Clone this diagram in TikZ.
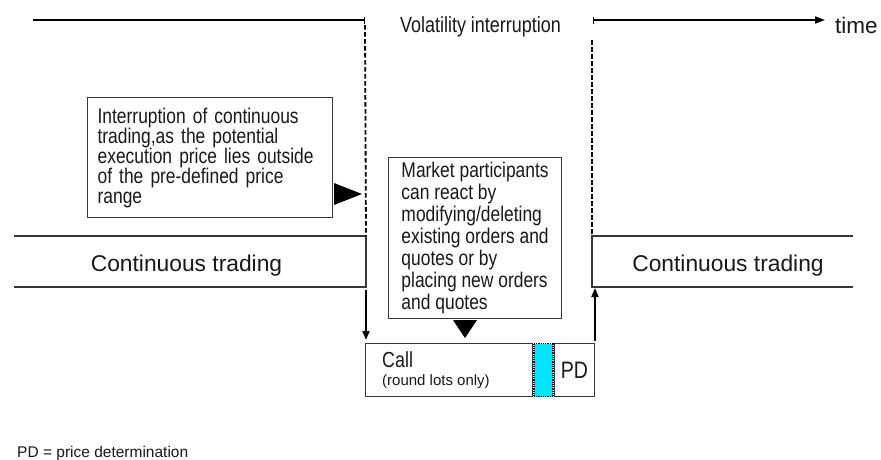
\documentclass[tikz,border=0pt]{standalone}
\usepackage{fontspec}
\setmainfont{Liberation Sans}
\newfontfamily\narrowsf{Liberation Sans}[FakeStretch=0.82]
\usetikzlibrary{arrows.meta,positioning,calc}
\definecolor{callcyan}{RGB}{0,229,255}
\definecolor{boxgray}{RGB}{55,55,55}
\definecolor{inkgray}{RGB}{25,25,25}

\begin{document}
\begin{tikzpicture}[x=1pt,y=-1pt,
	lane/.style={rectangle,draw=none,inner sep=0pt,outer sep=0pt,anchor=north west,minimum height=51pt},
	laneline/.style={draw=boxgray,line width=1.4pt},
	lanetext/.style={inner sep=0pt,anchor=base,text=inkgray,font=\fontsize{22.8}{24}\selectfont},
	vline/.style={line width=1.8pt,dash pattern=on 4.5pt off 2.5pt},
	flow/.style={line width=1.9pt,-{Triangle[length=9pt,width=7pt]}}]
	\useasboundingbox (0,0) rectangle (881,459);

	\begin{scope}[every node/.style={rectangle,draw=boxgray,line width=1.2pt,inner sep=0pt,anchor=north west,text=inkgray}]
		\node[text width=228pt,inner xsep=8.5pt,minimum height=120pt,align=left,font=\narrowsf\fontsize{21.25}{20}\selectfont] (interrupt) at (87,97) {\hspace*{1.5pt}Interruption of continuous\\\hspace*{1.5pt}trading,as the potential\\\hspace*{1.5pt}execution price lies outside\\\hspace*{1.5pt}of the pre-defined price\\\hspace*{1.5pt}range};
		\node[inner xsep=12pt,minimum width=173pt,minimum height=161pt,align=left,font=\narrowsf\fontsize{21.25}{22}\selectfont] (react) at (388,157) {Market participants\\can react by\\modifying/deleting\\existing orders and\\quotes or by\\placing new orders\\and quotes};

		\node[minimum width=167pt,minimum height=53pt] (call) at (365,343) {};
		\node[right =0pt of call,fill=callcyan,draw=black,line width=1.6pt,dash pattern=on 1pt off 0.8pt,minimum width=19pt,minimum height=53pt] (gap) {};
		\node[right =0pt of gap,minimum width=40pt,minimum height=53pt,font=\narrowsf\fontsize{23.8}{24}\selectfont] (pd) {PD};
	\end{scope}

	\node[inner sep=0pt,anchor=base west,text=inkgray,font=\narrowsf\fontsize{21.8}{22}\selectfont] (calltxt) at ($(call.north west)+(17,24)$) {Call};
	\node[inner sep=0pt,anchor=base west,text=inkgray,font=\fontsize{15}{15}\selectfont] (lots) at ($(call.north west)+(17,42)$) {(round lots only)};

	% trading phases
	\node[lane,minimum width=352pt] (ctL) at (14,236) {};
	\node[lanetext] (ctLtxt) at (186.5,271.5) {Continuous trading};
	\draw[laneline] (ctL.north west) -- (ctL.north east) -- (ctL.south east) -- (ctL.south west);
	\node[lane,minimum width=261pt] (ctR) at (592,236) {};
	\node[lanetext] (ctRtxt) at (728,271.5) {Continuous trading};
	\draw[laneline] (ctR.north east) -- (ctR.north west) -- (ctR.south west) -- (ctR.south east);

	% time axis
	\coordinate (axisL) at (33,20);
	\coordinate (tickL) at (365,20);
	\coordinate (tickR) at (593,20);
	\node[inner sep=0pt,anchor=base,text=inkgray,font=\narrowsf\fontsize{21.9}{22}\selectfont] (vi) at (480.5,32) {Volatility interruption};
	\node[inner sep=0pt,anchor=base west,text=inkgray,font=\fontsize{22.5}{24}\selectfont] (time) at (835,33) {time};
	\draw[line width=1.8pt,-{Bar[width=7pt,line width=1.2pt]}] (axisL) -- (tickL);
	\draw[line width=1.8pt,{Bar[width=7pt,line width=1.2pt]}-{Triangle[length=10pt,width=7pt]},shorten >=10pt] (tickR) -- (tickR -| time.west);

	\draw[vline] ([yshift=-5pt]tickL) -- (ctL.north east);
	\draw[vline] ($(tickR)+(-1,20)$) -- (ctR.north west);

	% markers
	\fill[black] (334,183) -- (362,194) -- (334,205) -- cycle;
	\fill[black] (453,320) -- (477,320) -- (465,338) -- cycle;

	\draw[flow,shorten <=3pt,shorten >=3pt] (ctL.south east) -- (ctL.south east |- call.north);
	\draw[flow,shorten <=2pt,shorten >=1pt] (pd.north east) -- (pd.north east |- ctR.south);

	\node[inner sep=0pt,anchor=base west,text=inkgray,font=\fontsize{15.5}{16}\selectfont] (legend) at (17,457.5) {PD = price determination};
\end{tikzpicture}
\end{document}
